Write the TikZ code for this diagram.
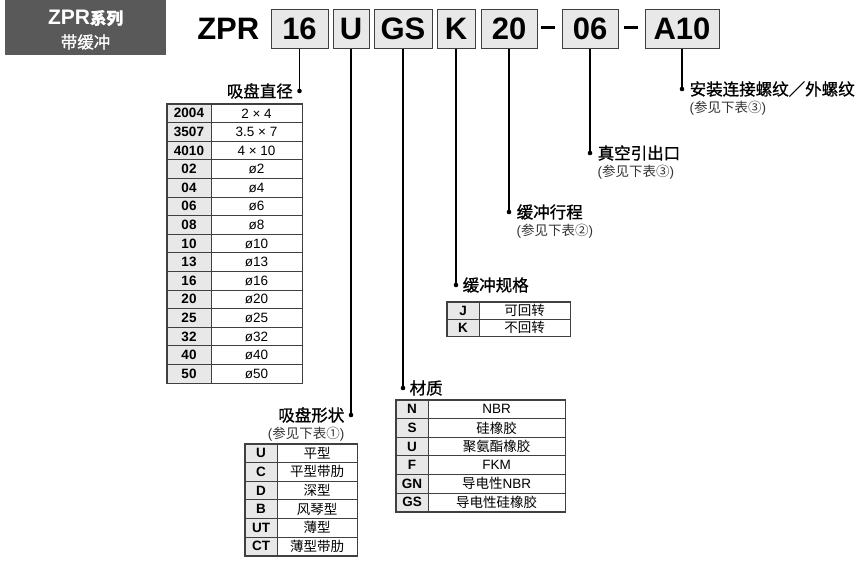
\documentclass[tikz,border=0pt]{standalone}
\usepackage{fontspec}
\setmainfont{Liberation Sans}
\newfontfamily\cjk{Noto Sans CJK SC}
\newfontfamily\cjkmed[FakeBold=1]{Noto Sans CJK SC}
\usetikzlibrary{positioning}
\definecolor{boxfill}{HTML}{E8E8E8}
\definecolor{rulecol}{HTML}{404040}
\definecolor{seriesgray}{HTML}{595959}
\definecolor{notegray}{HTML}{333333}

\begin{document}
\begin{tikzpicture}[x=1pt,y=-1pt,
  codebox/.style={draw=rulecol,fill=boxfill,line width=1pt,inner sep=0pt,minimum height=39pt,font=\bfseries\fontsize{31}{31}\selectfont},
  dashbar/.style={fill=black,inner sep=0pt,minimum width=14pt,minimum height=3pt},
  dot/.style={circle,fill=black,inner sep=0pt,minimum size=4.6pt},
  leader/.style={line width=1.1pt},
  tag/.style={inner sep=0pt,font=\cjkmed\fontsize{16.5}{18}\selectfont},
  note/.style={inner sep=0pt,text=notegray,font=\fontsize{13.5}{15}\selectfont},
  codecell/.style={draw=rulecol,fill=boxfill,line width=0.8pt,inner sep=0pt,font=\bfseries\fontsize{13.5}{14}\selectfont},
  valcell/.style={draw=rulecol,fill=white,line width=0.8pt,inner sep=0pt,font=\fontsize{13.5}{14}\selectfont},
  frame/.style={draw=rulecol,line width=1.2pt}]
  \useasboundingbox (0,0) rectangle (856,560);

  % series badge
  \node[fill=seriesgray,minimum width=161pt,minimum height=55pt] (series) at (85.5,27.5) {};
  \node[text=white,inner sep=0pt,font=\fontsize{21}{21}\selectfont] (seriesname) at (85.5,18) {\bfseries ZPR{\cjkmed\fontsize{16.5}{16}\selectfont 系列}};
  \node[text=white,inner sep=0pt,font=\cjkmed\fontsize{16.5}{16}\selectfont] (seriesnote) at (85.5,42) {带缓冲};

  % order code boxes, dots and leaders
  \foreach \name/\x/\w/\y in {16/299.5/57/91,U/351/36/415,GS/403/58/388,K/456/38/285,20/509/56/212,06/590/56/153,A10/682/74/89}{
    \node[codebox,minimum width=\w pt] (b\name) at (\x,28.5) {\name};
    \node[dot] (d\name) at (\x,\y) {};
    \draw[leader] (b\name) -- (d\name);
  }
  \node[inner sep=0pt,font=\bfseries\fontsize{31}{31}\selectfont,left=11pt of b16] (zpr) {ZPR};
  \node[dashbar] (dashA) at (547.5,27.5) {};
  \node[dashbar] (dashB) at (630.5,27.5) {};

  % labels
  \node[tag,left=4pt of d16] (l16) {吸盘直径};
  \node[tag,left=4pt of dU] (lU) {吸盘形状};
  \node[note,below=4pt of lU.south east,anchor=north east] (nU) {({\cjk 参见下表①})};
  \node[tag,right=4pt of dGS] (lGS) {材质};
  \node[tag,right=4pt of dK] (lK) {缓冲规格};
  \node[tag,right=5pt of d20] (l20) {缓冲行程};
  \node[note,below=4pt of l20.south west,anchor=north west] (n20) {({\cjk 参见下表②})};
  \node[tag,right=5pt of d06] (l06) {真空引出口};
  \node[note,below=4pt of l06.south west,anchor=north west] (n06) {({\cjk 参见下表③})};
  \node[tag,right=5pt of dA10] (lA10) {安装连接螺纹／外螺纹};
  \node[note,below=4pt of lA10.south west,anchor=north west] (nA10) {({\cjk 参见下表③})};

  % pad diameter table
  \foreach \c/\v [count=\i] in {2004/{2 × 4},3507/{3.5 × 7},4010/{4 × 10},02/ø2,04/ø4,06/ø6,08/ø8,10/ø10,13/ø13,16/ø16,20/ø20,25/ø25,32/ø32,40/ø40,50/ø50}{
    \node[codecell,minimum width=44pt,minimum height=18.6pt] (dc\i) at (189,{104+(\i-0.5)*18.6}) {\c};
    \node[valcell,minimum width=91pt,minimum height=18.6pt] (dv\i) at (256.5,{104+(\i-0.5)*18.6}) {\v};
  }
  \draw[frame] (dc1.north west) rectangle (dv15.south east);

  % pad shape table
  \foreach \c/\v [count=\i] in {U/平型,C/平型带肋,D/深型,B/风琴型,UT/薄型,CT/薄型带肋}{
    \node[codecell,minimum width=32pt,minimum height=18.6pt] (sc\i) at (261,{444+(\i-0.5)*18.6}) {\c};
    \node[valcell,minimum width=80pt,minimum height=18.6pt] (sv\i) at (317,{444+(\i-0.5)*18.6}) {\cjk\v};
  }
  \draw[frame] (sc1.north west) rectangle (sv6.south east);

  % material table
  \foreach \c/\v [count=\i] in {N/NBR,S/{\cjk 硅橡胶},U/{\cjk 聚氨酯橡胶},F/FKM,GN/{{\cjk 导电性}NBR},GS/{\cjk 导电性硅橡胶}}{
    \node[codecell,minimum width=32pt,minimum height=18.6pt] (mc\i) at (412,{400+(\i-0.5)*18.6}) {\c};
    \node[valcell,minimum width=137pt,minimum height=18.6pt] (mv\i) at (496.5,{400+(\i-0.5)*18.6}) {\v};
  }
  \draw[frame] (mc1.north west) rectangle (mv6.south east);

  % buffer type table
  \foreach \c/\v [count=\i] in {J/可回转,K/不回转}{
    \node[codecell,minimum width=32pt,minimum height=17pt] (kc\i) at (463,{302+(\i-0.5)*17}) {\c};
    \node[valcell,minimum width=91pt,minimum height=17pt] (kv\i) at (524.5,{302+(\i-0.5)*17}) {\cjk\v};
  }
  \draw[frame] (kc1.north west) rectangle (kv2.south east);
\end{tikzpicture}
\end{document}
